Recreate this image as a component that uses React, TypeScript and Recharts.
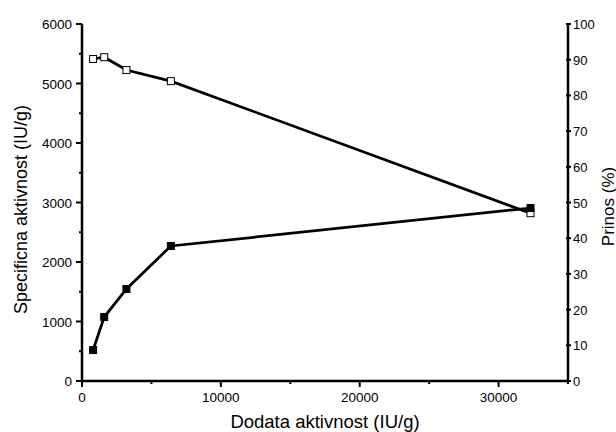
import { LineChart, Line, XAxis, YAxis, Label } from "recharts"

// added activity (IU/g)
const addedActivity = [800, 1600, 3200, 6400, 32300]
// specific activity (IU/g), filled squares, left axis
const specificActivity = [520, 1075, 1546, 2269, 2907]
// yield (%), open squares, right axis
const yieldPct = [90.2, 90.7, 87.1, 84.0, 47.0]

const xTicks = [0, 5000, 10000, 15000, 20000, 25000, 30000, 35000]
const leftTicks = [0, 500, 1000, 1500, 2000, 2500, 3000, 3500, 4000, 4500, 5000, 5500, 6000]
const rightTicks = [0, 10, 20, 30, 40, 50, 60, 70, 80, 90, 100]

const activityData = addedActivity.map((x, i) => ({ x, v: specificActivity[i] }))
const yieldData = addedActivity.map((x, i) => ({ x, v: yieldPct[i] }))

const font = "'Liberation Sans', Arial, sans-serif"

const LeftTick = (props: any) => {
  const { x, y, payload } = props
  const major = payload.value % 1000 === 0
  return (
    <g>
      <line x1={major ? x + 3 : x + 6} x2={x + 9} y1={y} y2={y} stroke="#000" strokeWidth={2} />
      {major && (
        <text x={x - 1} y={y} dy={5} textAnchor="end" fontSize={13.5} fill="#000" fontFamily={font}>
          {payload.value}
        </text>
      )}
    </g>
  )
}

const RightTick = (props: any) => {
  const { x, y, payload } = props
  return (
    <g>
      <line x1={x - 11} x2={x - 6} y1={y} y2={y} stroke="#000" strokeWidth={2} />
      <text x={x - 4} y={y} dy={5} textAnchor="start" fontSize={13} fill="#000" fontFamily={font}>
        {payload.value}
      </text>
    </g>
  )
}

const BottomTick = (props: any) => {
  const { x, y, payload } = props
  const major = payload.value % 10000 === 0
  return (
    <g>
      <line x1={x} x2={x} y1={y - 9} y2={major ? y - 3 : y - 6} stroke="#000" strokeWidth={2} />
      {major && (
        <text x={x} y={y} dy={12} textAnchor="middle" fontSize={13.5} fill="#000" fontFamily={font}>
          {payload.value}
        </text>
      )}
    </g>
  )
}

const FilledSquare = (props: any) => {
  const { cx, cy, index } = props
  return <rect key={`f-${index}`} x={cx - 3.5} y={cy - 3.5} width={7} height={7} fill="#000" stroke="#000" />
}

const OpenSquare = (props: any) => {
  const { cx, cy, index } = props
  return <rect key={`o-${index}`} x={cx - 3.5} y={cy - 3.5} width={7} height={7} fill="#fff" stroke="#000" strokeWidth={1} />
}

export default function App() {
  return (
    <div style={{ position: "absolute", left: 0, top: 0, background: "#fff" }}>
      <LineChart width={616} height={432} margin={{ top: 24, right: 10, bottom: 21, left: 20 }}>
        <XAxis
          type="number"
          dataKey="x"
          domain={[0, 35000]}
          ticks={xTicks}
          allowDuplicatedCategory={false}
          height={30}
          tickSize={6}
          tickMargin={3}
          tickLine={false}
          tick={<BottomTick />}
          axisLine={{ stroke: "#000", strokeWidth: 2.5 }}
        >
          <Label
            content={({ viewBox }: any) => (
              <text
                x={viewBox.x + viewBox.width / 2}
                y={viewBox.y + viewBox.height + 17}
                textAnchor="middle"
                fontSize={18.5}
                fill="#000"
                fontFamily={font}
              >
                Dodata aktivnost (IU/g)
              </text>
            )}
          />
        </XAxis>
        <YAxis
          yAxisId="left"
          orientation="left"
          domain={[0, 6000]}
          ticks={leftTicks}
          width={62}
          tickSize={6}
          tickMargin={3}
          tickLine={false}
          tick={<LeftTick />}
          axisLine={{ stroke: "#000", strokeWidth: 2.5 }}
        >
          <Label
            content={({ viewBox }: any) => {
              const cx = viewBox.x + 1
              const cy = viewBox.y + viewBox.height / 2 + 7
              return (
                <text
                  x={cx}
                  y={cy}
                  transform={`rotate(-90 ${cx} ${cy})`}
                  textAnchor="middle"
                  dominantBaseline="central"
                  fontSize={18}
                  fill="#000"
                  fontFamily={font}
                >
                  Specificna aktivnost (IU/g)
                </text>
              )
            }}
          />
        </YAxis>
        <YAxis
          yAxisId="right"
          orientation="right"
          domain={[0, 100]}
          ticks={rightTicks}
          width={38}
          tickSize={6}
          tickMargin={3}
          tickLine={false}
          tick={<RightTick />}
          axisLine={{ stroke: "#000", strokeWidth: 2.5 }}
        >
          <Label
            content={({ viewBox }: any) => {
              const cx = viewBox.x + viewBox.width + 2
              const cy = viewBox.y + viewBox.height / 2 + 4
              return (
                <text
                  x={cx}
                  y={cy}
                  transform={`rotate(-90 ${cx} ${cy})`}
                  textAnchor="middle"
                  dominantBaseline="central"
                  fontSize={17}
                  fill="#000"
                  fontFamily={font}
                >
                  Prinos (%)
                </text>
              )
            }}
          />
        </YAxis>
        <Line
          yAxisId="right"
          data={yieldData}
          dataKey="v"
          type="linear"
          stroke="#000"
          strokeWidth={2.75}
          dot={<OpenSquare />}
          isAnimationActive={false}
        />
        <Line
          yAxisId="left"
          data={activityData}
          dataKey="v"
          type="linear"
          stroke="#000"
          strokeWidth={2.75}
          dot={<FilledSquare />}
          isAnimationActive={false}
        />
      </LineChart>
    </div>
  )
}
